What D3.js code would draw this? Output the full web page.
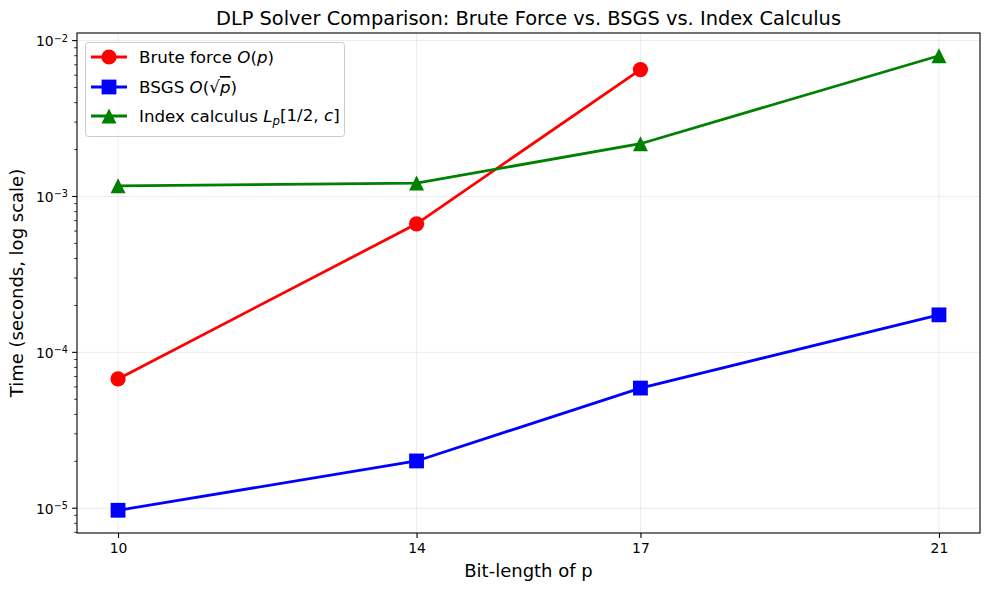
<!DOCTYPE html>
<html>
<head>
<meta charset="utf-8">
<script src="https://cdn.jsdelivr.net/npm/d3@7"></script>
<style>
  body { margin: 0; background: #fff; }
  text { font-family: "DejaVu Sans", sans-serif; }
</style>
</head>
<body>
<svg width="990" height="590"></svg>
<script>
// data
var bits = [10, 14, 17, 21];
var bruteTimes = [6.75e-5, 6.68e-4, 6.52e-3];
var bsgsTimes = [9.7e-6, 2.01e-5, 5.9e-5, 1.74e-4];
var indexTimes = [1.17e-3, 1.22e-3, 2.18e-3, 8.0e-3];
var yDecades = [-5, -4, -3, -2];

var series = [
    {name: 'brute', values: bruteTimes, color: '#ff0000', marker: 'circle'},
    {name: 'bsgs', values: bsgsTimes, color: '#0000ff', marker: 'square'},
    {name: 'index', values: indexTimes, color: '#008000', marker: 'triangle'}
];

var svg = d3.select('svg');
var margin = {left: 77, right: 10, top: 33, bottom: 57};
var width = 990 - margin.left - margin.right;
var height = 590 - margin.top - margin.bottom;

// matplotlib style 5% padding
var xPad = (d3.max(bits) - d3.min(bits)) * 0.05;
var x = d3.scaleLinear()
    .domain([d3.min(bits) - xPad, d3.max(bits) + xPad])
    .range([margin.left, margin.left + width]);

var allVals = [].concat(bruteTimes, bsgsTimes, indexTimes);
var lmin = Math.log10(d3.min(allVals));
var lmax = Math.log10(d3.max(allVals));
var lpad = (lmax - lmin) * 0.05;
var y = d3.scaleLog()
    .domain([Math.pow(10, lmin - lpad), Math.pow(10, lmax + lpad)])
    .range([margin.top + height, margin.top]);

// grid
var grid = svg.append('g');
bits.forEach(b => {
    grid.append('line')
        .attr('x1', x(b)).attr('x2', x(b))
        .attr('y1', margin.top).attr('y2', margin.top + height)
        .attr('stroke', '#b0b0b0').attr('stroke-opacity', 0.3).attr('stroke-width', 0.8);
});
yDecades.forEach(d => {
    grid.append('line')
        .attr('x1', margin.left).attr('x2', margin.left + width)
        .attr('y1', y(Math.pow(10, d))).attr('y2', y(Math.pow(10, d)))
        .attr('stroke', '#b0b0b0').attr('stroke-opacity', 0.3).attr('stroke-width', 0.8);
});

// x axis
var xAxis = d3.axisBottom(x).tickValues(bits).tickSize(4.9).tickPadding(4.9);
var gx = svg.append('g')
    .attr('transform', `translate(0,${margin.top + height})`)
    .call(xAxis);
gx.select('.domain').remove();
gx.selectAll('text').attr('font-size', '13.9px').attr('fill', '#000').attr('font-family', 'DejaVu Sans');
gx.selectAll('line').attr('stroke-width', 1.1);

// y axis: major and minor ticks
var minorTicks = [];
for (var d = -6; d <= -2; d++) {
    for (var m = 2; m <= 9; m++) {
        var v = m * Math.pow(10, d);
        if (v >= y.domain()[0] && v <= y.domain()[1]) minorTicks.push(v);
    }
}
var gy = svg.append('g').attr('transform', `translate(${margin.left},0)`);
gy.selectAll('.minor').data(minorTicks).enter().append('line')
    .attr('x1', -2.8).attr('x2', 0)
    .attr('y1', d => y(d)).attr('y2', d => y(d))
    .attr('stroke', '#000').attr('stroke-width', 0.8);
var major = gy.selectAll('.major').data(yDecades).enter().append('g')
    .attr('transform', d => `translate(0,${y(Math.pow(10, d))})`);
major.append('line').attr('x1', -4.9).attr('x2', 0).attr('stroke', '#000').attr('stroke-width', 1.1);
var lab = major.append('text')
    .attr('x', -9).attr('dy', '0.38em')
    .attr('text-anchor', 'end')
    .attr('font-size', '13.9px');
lab.append('tspan').text('10');
lab.append('tspan').attr('dy', '-0.45em').attr('font-size', '9.7px').text(d => '\u2212' + Math.abs(d));

// frame
svg.append('rect')
    .attr('x', margin.left).attr('y', margin.top)
    .attr('width', width).attr('height', height)
    .attr('fill', 'none').attr('stroke', '#000').attr('stroke-width', 1.1);

// lines and markers
var line = d3.line().x((d, i) => x(bits[i])).y(d => y(d));
function drawMarker(g, type, color, cx, cy) {
    if (type === 'circle') {
        g.append('circle').attr('cx', cx).attr('cy', cy).attr('r', 7.6).attr('fill', color);
    } else if (type === 'square') {
        g.append('rect').attr('x', cx - 7.4).attr('y', cy - 7.4).attr('width', 14.8).attr('height', 14.8).attr('fill', color);
    } else {
        var h = 7.5;
        g.append('path')
            .attr('d', `M${cx},${cy - h}L${cx + h},${cy + h}L${cx - h},${cy + h}Z`)
            .attr('fill', color);
    }
}
series.forEach(s => {
    var g = svg.append('g');
    g.append('path').datum(s.values)
        .attr('d', line)
        .attr('fill', 'none').attr('stroke', s.color).attr('stroke-width', 2.78);
    s.values.forEach((v, i) => drawMarker(g, s.marker, s.color, x(bits[i]), y(v)));
});

// legend
var lg = svg.append('g');
lg.append('rect')
    .attr('x', 85.5).attr('y', 42.5).attr('width', 259).attr('height', 94).attr('rx', 3)
    .attr('fill', '#fff').attr('fill-opacity', 0.8)
    .attr('stroke', '#cccccc').attr('stroke-width', 1);
var ly = [57, 87, 116];
series.forEach((s, i) => {
    lg.append('line').attr('x1', 91).attr('x2', 127).attr('y1', ly[i]).attr('y2', ly[i])
        .attr('stroke', s.color).attr('stroke-width', 2.78);
    drawMarker(lg, s.marker, s.color, 109, ly[i]);
});
function legendText(i) {
    return lg.append('text').attr('x', 139).attr('y', ly[i]).attr('dy', '0.36em').attr('font-size', '16.7px');
}
var t0 = legendText(0);
t0.append('tspan').text('Brute force ');
t0.append('tspan').attr('font-style', 'italic').text('O');
t0.append('tspan').text('(');
t0.append('tspan').attr('font-style', 'italic').text('p');
t0.append('tspan').text(')');

var t1 = legendText(1);
t1.append('tspan').text('BSGS ');
t1.append('tspan').attr('font-style', 'italic').text('O');
t1.append('tspan').text('(\u221A');
t1.append('tspan').attr('font-style', 'italic').attr('text-decoration', 'overline').text('p');
t1.append('tspan').text(')');

var t2 = legendText(2);
t2.append('tspan').text('Index calculus ');
t2.append('tspan').attr('font-style', 'italic').text('L');
t2.append('tspan').attr('font-style', 'italic').attr('font-size', '11.7px').attr('dy', '0.25em').text('p');
t2.append('tspan').attr('dy', '-0.25em').attr('font-size', '16.7px').text('[1/2, ');
t2.append('tspan').attr('font-style', 'italic').text('c');
t2.append('tspan').text(']');

// titles
svg.append('text')
    .attr('x', margin.left + width / 2).attr('y', 25)
    .attr('text-anchor', 'middle').attr('font-size', '19.4px')
    .text('DLP Solver Comparison: Brute Force vs. BSGS vs. Index Calculus');
svg.append('text')
    .attr('x', margin.left + width / 2).attr('y', 577)
    .attr('text-anchor', 'middle').attr('font-size', '18px')
    .text('Bit-length of p');
svg.append('text')
    .attr('transform', `translate(23,${margin.top + height / 2}) rotate(-90)`)
    .attr('text-anchor', 'middle').attr('font-size', '18px')
    .text('Time (seconds, log scale)');
</script>
</body>
</html>
